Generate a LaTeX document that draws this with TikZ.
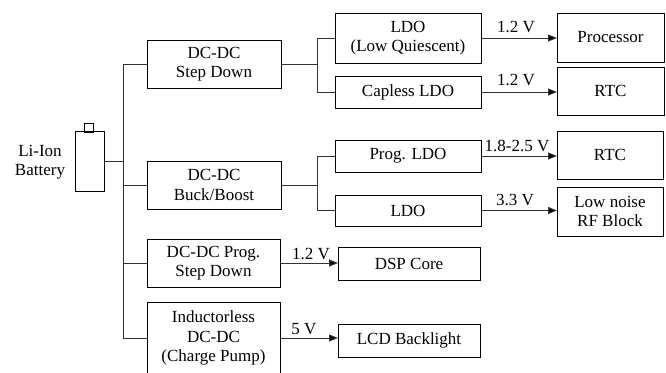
\documentclass[tikz,border=0pt]{standalone}
\usepackage{fontspec}
\setmainfont{Liberation Serif}
\usetikzlibrary{arrows.meta}
\begin{document}
\begin{tikzpicture}[x=1pt,y=-1pt,
  font=\fontsize{17}{19.5}\selectfont,
  box/.style={draw=black, line width=0.8pt, align=center, inner sep=0pt, outer sep=0pt},
  wire/.style={draw=black!80, line width=1pt},
  arr/.style={wire, -{Triangle[length=9pt,width=7pt,fill=black]}},
  volt/.style={anchor=base, inner sep=0pt}]
\useasboundingbox (0,0) rectangle (666,372);
\clip (0,0) rectangle (666,372);
% battery
\node[box, minimum width=29pt, minimum height=60pt] (bat) at (89.5,161) {};
\node[box, minimum width=9pt, minimum height=9pt] (cap) at (88.5,127.5) {};
\node[align=center, inner sep=0pt] (batl) at (40,162) {Li-Ion\\Battery};
% first stage
\node[box, minimum width=134pt, minimum height=48pt] (sd) at (214,64) {DC-DC\\Step Down};
\node[box, minimum width=134pt, minimum height=48pt] (bb) at (214,185) {DC-DC\\Buck/Boost};
\node[box, minimum width=133pt, minimum height=48pt] (psd) at (213.5,263) {DC-DC Prog.\\Step Down};
\node[box, minimum width=133pt, minimum height=72pt] (cp) at (213.5,338) {Inductorless\\DC-DC\\(Charge Pump)};
% second stage
\node[box, minimum width=146pt, minimum height=50pt] (ldo1) at (408,38) {LDO\\(Low Quiescent)};
\node[box, minimum width=146pt, minimum height=32pt] (cl) at (408,92) {Capless LDO};
\node[box, minimum width=146pt, minimum height=32pt] (pldo) at (408,156) {Prog. LDO};
\node[box, minimum width=146pt, minimum height=31pt] (ldo2) at (408,210.5) {LDO};
\node[box, minimum width=142pt, minimum height=33pt] (dsp) at (409,263.5) {DSP Core};
\node[box, minimum width=142pt, minimum height=33pt] (lcd) at (409,340.5) {LCD Backlight};
% loads
\node[box, minimum width=107pt, minimum height=49pt] (proc) at (610.5,37.5) {Processor};
\node[box, minimum width=107pt, minimum height=48pt] (rtca) at (610.5,91) {RTC};
\node[box, minimum width=106pt, minimum height=48pt] (rtcb) at (610,155) {RTC};
\node[box, minimum width=106pt, minimum height=49pt] (rf) at (610,211.5) {Low noise\\RF Block};
% buses
\coordinate (busx) at (123,0);
\coordinate (s1) at (317,0);
\coordinate (s2) at (317,0);
\draw[wire] (sd.west) -- (sd.west -| busx) -- (cp.west -| busx) -- (cp.west);
\draw[wire] (bat.east) -- (bat.east -| busx);
\draw[wire] (bb.west) -- (bb.west -| busx);
\draw[wire] (psd.west) -- (psd.west -| busx);
\draw[wire] (sd.east) -- (sd.east -| s1);
\draw[wire] (ldo1.west) -- (ldo1.west -| s1) -- (cl.west -| s1) -- (cl.west);
\draw[wire] (bb.east) -- (bb.east -| s2);
\draw[wire] (pldo.west) -- (pldo.west -| s2) -- (ldo2.west -| s2) -- (ldo2.west);
% arrows
\draw[arr] (ldo1.east) -- (ldo1.east -| proc.west);
\draw[arr] (cl.east) -- (cl.east -| rtca.west);
\draw[arr] (pldo.east) -- (pldo.east -| rtcb.west);
\draw[arr] (ldo2.east) -- (ldo2.east -| rf.west);
\draw[arr] (psd.east) -- (psd.east -| dsp.west);
\draw[arr] (cp.east) -- (cp.east -| lcd.west);
% voltage labels
\node[volt] (v1) at (516,32) {1.2 V};
\node[volt] (v2) at (516,85) {1.2 V};
\node[volt] (v3) at (517,151) {1.8-2.5 V};
\node[volt] (v4) at (515,205) {3.3 V};
\node[volt] (v5) at (311,259) {1.2 V};
\node[volt] (v6) at (304,334) {5 V};
\end{tikzpicture}
\end{document}
